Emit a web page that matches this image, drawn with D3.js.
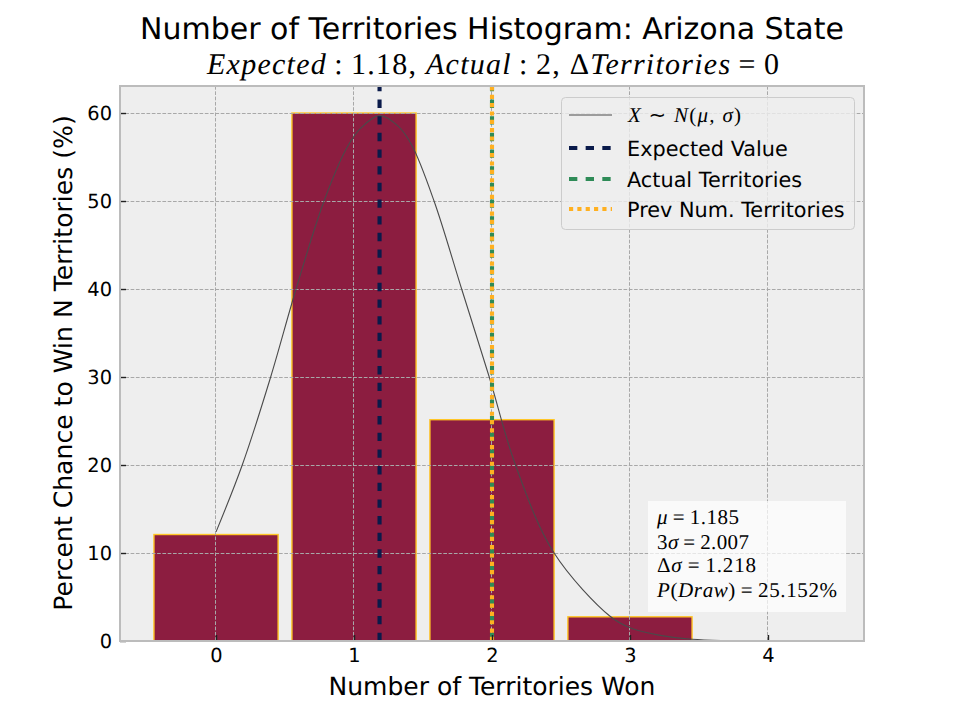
<!DOCTYPE html>
<html><head><meta charset="utf-8">
<script src="https://cdn.jsdelivr.net/npm/d3@7"></script>
<style>html,body{margin:0;padding:0;background:#fff}svg{display:block}text{font-family:"DejaVu Sans";fill:#000;text-rendering:geometricPrecision}</style>
</head><body><svg id="c" width="960" height="720"></svg>
<script>
const titleText = "Number of Territories Histogram: Arizona State";
const xLabelText = "Number of Territories Won";
const yLabelText = "Percent Chance to Win N Territories (%)";
const barCategories = [0, 1, 2, 3];
const barValues = [12.1, 60, 25.15, 2.75];
const xTickValues = [0, 1, 2, 3, 4];
const yTickValues = [0, 10, 20, 30, 40, 50, 60];
const curveX = [0, .19, .396, .58, .783, .95, 1.05, 1.185, 1.32, 1.42, 1.58, 1.78, 1.98, 2.17, 2.45, 2.86, 3.0, 3.2, 3.45, 3.7, 4.0];
const curveY = [12.4, 20, 30, 40, 50, 56.1, 58.3, 59.7, 58.5, 56.3, 50, 40, 30, 20, 10, 2.75, 1.5, .7, .2, .05, .01];
const expectedValue = 1.185;
const actualTerritories = 2;
const prevTerritories = 2;
const legendLabels = ["Expected Value", "Actual Territories", "Prev Num. Territories"];

const NAVY = "#0a1a4a", GREEN = "#2e8b57", ORANGE = "#ffb020", MAROON = "#8c1d40", GOLD = "#ffc627";
const L = 120, R = 864, T = 86, B = 641;
const svg = d3.select("#c");
const x = d3.scaleLinear().domain([-0.696, 4.696]).range([L, R]);
const y = d3.scaleLinear().domain([0, 63.07]).range([B, T]);

svg.append("defs").append("clipPath").attr("id", "plot").append("rect")
  .attr("x", L).attr("y", T).attr("width", R - L).attr("height", B - T);

svg.append("rect").attr("x", L).attr("y", T).attr("width", R - L).attr("height", B - T).attr("fill", "#eeeeee");

const plot = svg.append("g").attr("clip-path", "url(#plot)");
plot.selectAll(".bar").data(barCategories).join("rect").attr("class", "bar")
  .attr("x", d => x(d - .45)).attr("width", d => x(d + .45) - x(d - .45))
  .attr("y", (d, i) => y(barValues[i])).attr("height", (d, i) => y(0) - y(barValues[i]))
  .attr("fill", MAROON).attr("stroke", GOLD).attr("stroke-width", 1.4);

const grid = plot.append("g").attr("fill", "none").attr("stroke", "#a8a8a8").attr("stroke-width", 1).attr("stroke-dasharray", "3.7,1.6");
grid.selectAll(".gx").data(xTickValues).join("line").attr("x1", d => Math.round(x(d)) - .5).attr("x2", d => Math.round(x(d)) - .5).attr("y1", T).attr("y2", B);
grid.selectAll(".gy").data(yTickValues).join("line").attr("x1", L).attr("x2", R).attr("y1", d => Math.round(y(d)) + .5).attr("y2", d => Math.round(y(d)) + .5);

const line = d3.line().x(d => x(d[0])).y(d => y(d[1])).curve(d3.curveCatmullRom.alpha(.5));
plot.append("path").attr("d", line(curveX.map((v, i) => [v, curveY[i]])))
  .attr("fill", "none").attr("stroke", "#4a4a4a").attr("stroke-width", 1.1);

function vline(v, col, dash) {
  plot.append("line").attr("x1", x(v)).attr("x2", x(v)).attr("y1", y(0)).attr("y2", T)
    .attr("stroke", col).attr("stroke-width", 4.1).attr("stroke-dasharray", dash);
}
vline(expectedValue, NAVY, "8.33,8.33");
vline(actualTerritories, GREEN, "8.33,8.33");
vline(prevTerritories, ORANGE, "4.17,4.17");

const ax = svg.append("g").attr("transform", `translate(0,${B})`)
  .call(d3.axisBottom(x).tickValues(xTickValues).tickFormat(d3.format("d")).tickSize(-6).tickPadding(7));
const ay = svg.append("g").attr("transform", `translate(${L},0)`)
  .call(d3.axisLeft(y).tickValues(yTickValues).tickFormat(d3.format("d")).tickSize(-6).tickPadding(8));
[ax, ay].forEach(g => {
  g.select(".domain").remove();
  g.selectAll("text").attr("font-size", 19.4).style("font-family", '"DejaVu Sans"').attr("fill", "#000");
  g.selectAll("line").attr("stroke", "#222").attr("stroke-width", 1.4);
});
svg.append("rect").attr("x", L).attr("y", T).attr("width", R - L).attr("height", B - T)
  .attr("fill", "none").attr("stroke", "#bcbcbc").attr("stroke-width", 2);

svg.append("text").attr("x", 492).attr("y", 39).attr("text-anchor", "middle").attr("font-size", 30).text(titleText);
svg.append("text").attr("x", 492).attr("y", 695).attr("text-anchor", "middle").attr("font-size", 25).text(xLabelText);
svg.append("text").attr("transform", "translate(72,363) rotate(-90)").attr("text-anchor", "middle").attr("font-size", 25.1).text(yLabelText);

function math(parent, px, py, size, parts, width) {
  const t = parent.append("text").attr("x", px).attr("y", py).attr("font-size", size)
    .attr("textLength", width).attr("lengthAdjust", "spacing").attr("xml:space", "preserve");
  t.style("font-family", '"Liberation Serif"');
  parts.forEach(p => t.append("tspan").attr("font-style", p[1] ? "italic" : "normal").text(p[0]));
}
math(svg, 207, 74, 30, [["Expected", 1], ["\u2009:\u20091.18, ", 0], ["Actual", 1], ["\u2009:\u20092, Δ", 0], ["Territories", 1], ["\u2009=\u20090", 0]], 572);

const lg = svg.append("g");
lg.append("rect").attr("x", 561.5).attr("y", 97.5).attr("width", 293).attr("height", 132).attr("rx", 4)
  .attr("fill", "#eeeeee").attr("fill-opacity", .8).attr("stroke", "#cccccc").attr("stroke-width", 1);
lg.append("line").attr("x1", 569).attr("x2", 612).attr("y1", 115).attr("y2", 115).attr("stroke", "#4a4a4a").attr("stroke-width", 1);
math(lg, 628, 122, 21, [["X", 1], [" ∼ ", 0], ["N", 1], ["(", 0], ["μ, σ", 1], [")", 0]], 113);
const legendStyles = [[NAVY, "8.33,8.33"], [GREEN, "8.33,8.33"], [ORANGE, "4.17,4.17"]];
const legendY = [148, 179, 209];
legendLabels.forEach((lab, i) => {
  lg.append("line").attr("x1", 569).attr("x2", 612).attr("y1", legendY[i]).attr("y2", legendY[i])
    .attr("stroke", legendStyles[i][0]).attr("stroke-width", 4.1).attr("stroke-dasharray", legendStyles[i][1]);
  lg.append("text").attr("x", 627).attr("y", legendY[i] + 8).attr("font-size", 20.8).text(lab);
});

const box = svg.append("g");
box.append("rect").attr("x", 648).attr("y", 501).attr("width", 198).attr("height", 111).attr("fill", "#fff").attr("fill-opacity", .7);
math(box, 657, 524, 21, [["μ", 1], ["\u2009=\u20091.185", 0]], 82);
math(box, 657, 549, 21, [["3", 0], ["σ", 1], ["\u2009=\u20092.007", 0]], 92);
math(box, 657, 572, 21, [["Δ", 0], ["σ", 1], ["\u2009=\u20091.218", 0]], 99);
math(box, 657, 597, 21, [["P", 1], ["(", 0], ["Draw", 1], [")\u2009=\u200925.152%", 0]], 180);
</script></body></html>
